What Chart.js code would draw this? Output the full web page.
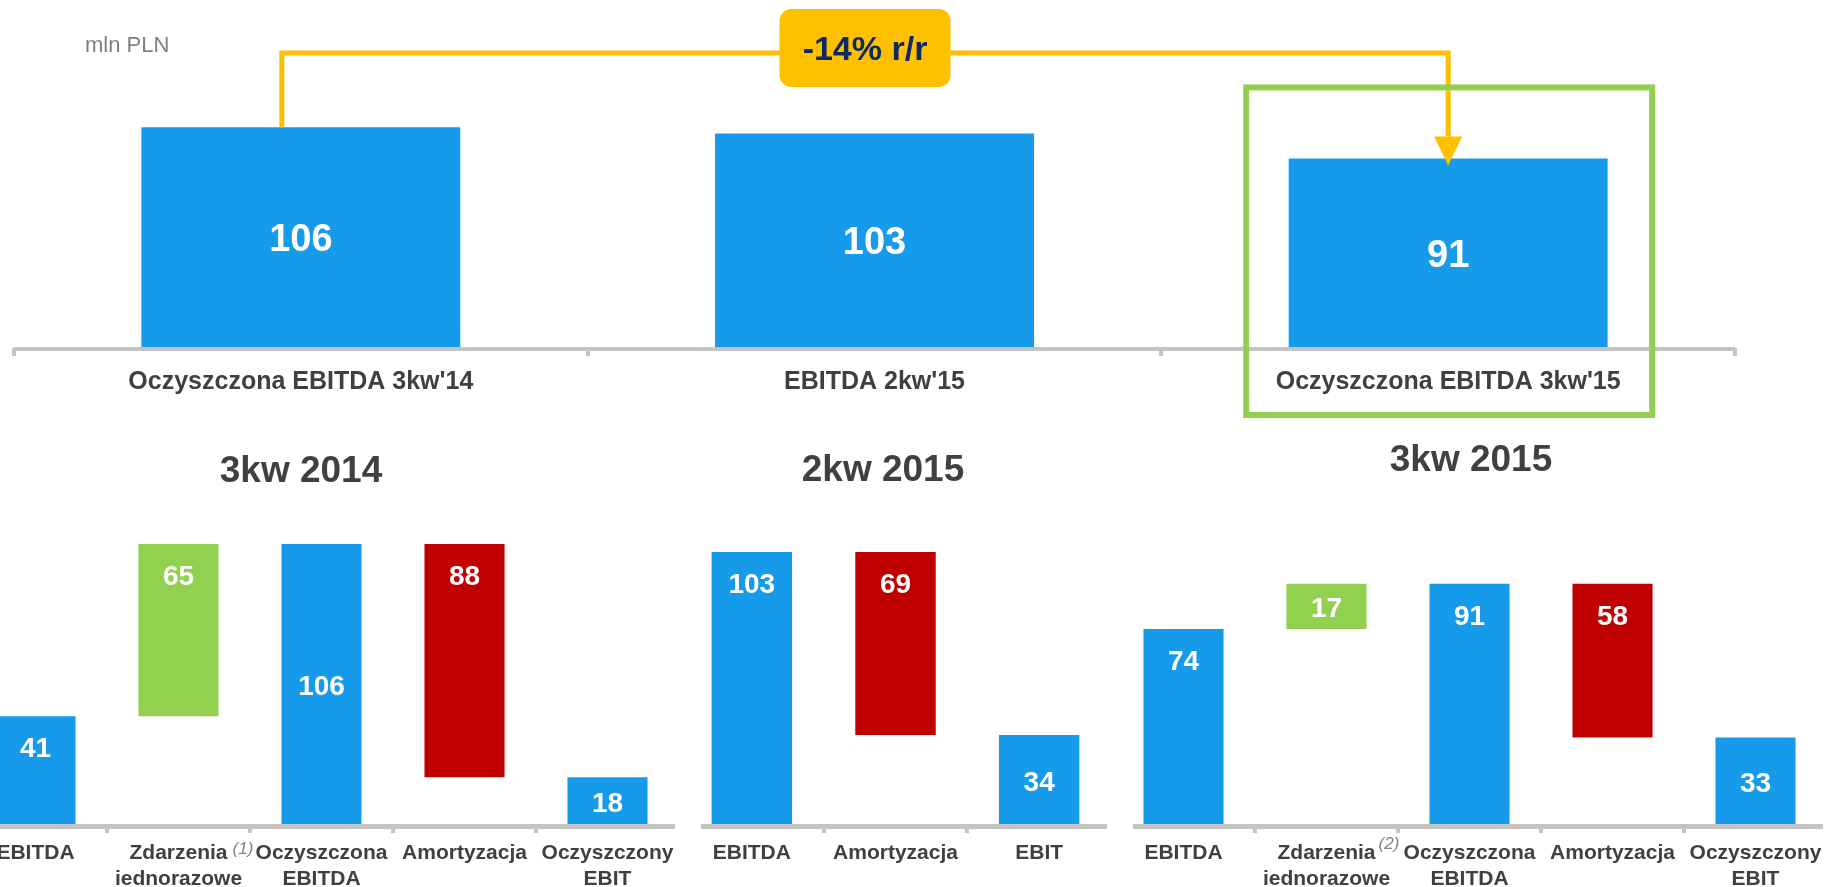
<!DOCTYPE html>
<html>
<head>
<meta charset="utf-8">
<title>EBITDA</title>
<script src="https://cdn.jsdelivr.net/npm/chart.js@4.4.0/dist/chart.umd.min.js"></script>
<style>
  html, body { margin: 0; padding: 0; background: #fff; overflow: hidden; }
  body { width: 1824px; height: 887px; position: relative; }
  .box { position: absolute; }
</style>
</head>
<body>
<div class="box" style="left:0;top:0;width:1824px;height:430px"><canvas id="top"></canvas></div>
<div class="box" style="left:-36px;top:430px;width:715px;height:457px"><canvas id="q3_2014"></canvas></div>
<div class="box" style="left:680px;top:430px;width:431px;height:457px"><canvas id="q2_2015"></canvas></div>
<div class="box" style="left:1112px;top:430px;width:715px;height:457px"><canvas id="q3_2015"></canvas></div>
<script>
// data
var unitText = 'mln PLN';
var changeText = '-14% r/r';
var topLabels = ["Oczyszczona EBITDA 3kw'14", "EBITDA 2kw'15", "Oczyszczona EBITDA 3kw'15"];
var topValues = [106, 103, 91];

var cats2014 = [['EBITDA'], ['Zdarzenia', 'jednorazowe'], ['Oczyszczona', 'EBITDA'], ['Amortyzacja'], ['Oczyszczony', 'EBIT']];
var vals2014 = [41, 65, 106, 88, 18];
var kinds2014 = ['total', 'up', 'total', 'down', 'total'];
var notes2014 = ['', '(1)', '', '', ''];

var cats2Q15 = [['EBITDA'], ['Amortyzacja'], ['EBIT']];
var vals2Q15 = [103, 69, 34];
var kinds2Q15 = ['total', 'down', 'total'];
var notes2Q15 = ['', '', ''];

var cats3Q15 = [['EBITDA'], ['Zdarzenia', 'jednorazowe'], ['Oczyszczona', 'EBITDA'], ['Amortyzacja'], ['Oczyszczony', 'EBIT']];
var vals3Q15 = [74, 17, 91, 58, 33];
var kinds3Q15 = ['total', 'up', 'total', 'down', 'total'];
var notes3Q15 = ['', '(2)', '', '', ''];

var BLUE = '#169BEA', GREEN = '#92D050', RED = '#C00000', GOLD = '#FFC000';
var AXIS = '#C4C4C4', TEXT = '#404040', NAVY = '#0D2A5E';
var FONT = "'Liberation Sans', Arial, sans-serif";

Chart.defaults.font.family = FONT;

// running total -> floating bars
function waterfall(vals, kinds) {
  var run = 0;
  return vals.map(function (v, i) {
    var r;
    if (kinds[i] === 'total') { run = v; return [0, v]; }
    if (kinds[i] === 'up') { r = [run, run + v]; run += v; return r; }
    r = [run - v, run]; run -= v; return r;
  });
}

function kindColor(k) {
  return k === 'up' ? GREEN : (k === 'down' ? RED : BLUE);
}

function fixAxis(h) {
  return function (s) { s.height = h; s.paddingLeft = 0; s.paddingRight = 0; };
}

// baseline + white value labels
var barText = {
  id: 'barText',
  afterDatasetsDraw: function (chart, args, o) {
    var ctx = chart.ctx, a = chart.chartArea;
    ctx.save();
    ctx.strokeStyle = AXIS;
    ctx.lineWidth = o.axisWidth;
    ctx.beginPath();
    ctx.moveTo(a.left + o.inset[0], a.bottom + o.axisShift);
    ctx.lineTo(a.right - o.inset[1], a.bottom + o.axisShift);
    ctx.stroke();

    ctx.fillStyle = '#fff';
    ctx.font = 'bold ' + o.size + 'px ' + FONT;
    ctx.textAlign = 'center';
    ctx.textBaseline = 'middle';
    chart.getDatasetMeta(0).data.forEach(function (bar, i) {
      var t = Math.min(bar.y, bar.base), b = Math.max(bar.y, bar.base);
      var mid = o.centered || (b - t) < 100 || o.mid.indexOf(i) >= 0;
      ctx.fillText(String(o.values[i]), bar.x, (mid ? (t + b) / 2 : t + 30) + 3);
    });
    ctx.restore();
  }
};

// panel title + footnote marks
var panel = {
  id: 'panel',
  afterDraw: function (chart, args, o) {
    if (!o.title) return;
    var ctx = chart.ctx, a = chart.chartArea, xs = chart.scales.x;
    ctx.save();
    ctx.fillStyle = TEXT;
    ctx.font = 'bold 37px ' + FONT;
    ctx.textAlign = 'center';
    ctx.textBaseline = 'middle';
    ctx.fillText(o.title, (a.left + a.right) / 2 + o.dx, o.y);

    o.notes.forEach(function (n, i) {
      if (!n) return;
      var first = chart.data.labels[i][0];
      ctx.font = 'bold 21px ' + FONT;
      var w = ctx.measureText(first).width;
      ctx.font = 'italic 17px ' + FONT;
      ctx.fillStyle = '#808080';
      ctx.textAlign = 'left';
      ctx.textBaseline = 'alphabetic';
      ctx.fillText(n, xs.getPixelForValue(i) + w / 2 + o.noteDx, a.bottom + o.noteDy);
    });
    ctx.restore();
  }
};

// unit, y/y connector and highlight frame on the top chart
var compare = {
  id: 'compare',
  afterDraw: function (chart) {
    var ctx = chart.ctx, xs = chart.scales.x, ys = chart.scales.y, a = chart.chartArea;
    var x0 = xs.getPixelForValue(0) - 19;
    var x2 = xs.getPixelForValue(2);
    var y0 = ys.getPixelForValue(topValues[0]);
    var y2 = ys.getPixelForValue(topValues[2]);
    var lineY = 53;
    ctx.save();

    ctx.fillStyle = '#7F7F7F';
    ctx.font = '22px ' + FONT;
    ctx.textBaseline = 'middle';
    ctx.textAlign = 'left';
    ctx.fillText(unitText, 85, 46);

    ctx.strokeStyle = GOLD;
    ctx.lineWidth = 5;
    ctx.beginPath();
    ctx.moveTo(x0, y0);
    ctx.lineTo(x0, lineY);
    ctx.lineTo(x2, lineY);
    ctx.lineTo(x2, y2 - 22);
    ctx.stroke();
    ctx.fillStyle = GOLD;
    ctx.beginPath();
    ctx.moveTo(x2 - 14, y2 - 22);
    ctx.lineTo(x2 + 14, y2 - 22);
    ctx.lineTo(x2, y2 + 7);
    ctx.closePath();
    ctx.fill();

    var cx = (x0 + x2) / 2, bw = 171, bh = 78;
    ctx.beginPath();
    ctx.roundRect(cx - bw / 2, 9, bw, bh, 12);
    ctx.fill();
    ctx.fillStyle = NAVY;
    ctx.font = 'bold 34px ' + FONT;
    ctx.textAlign = 'center';
    ctx.fillText(changeText, cx, 51);

    ctx.strokeStyle = GREEN;
    ctx.lineWidth = 6;
    ctx.strokeRect(x2 - 202, y2 - 71, 406, a.bottom - y2 + 138);
    ctx.restore();
  }
};

new Chart(document.getElementById('top'), {
  type: 'bar',
  data: {
    labels: topLabels,
    datasets: [{
      data: topValues,
      backgroundColor: BLUE,
      barPercentage: 0.556,
      categoryPercentage: 1
    }]
  },
  options: {
    responsive: true,
    maintainAspectRatio: false,
    animation: false,
    layout: { padding: { left: 14, right: 89, top: 98, bottom: 22 } },
    plugins: {
      legend: { display: false },
      tooltip: { enabled: false },
      barText: { values: topValues, size: 38, centered: true, mid: [], axisWidth: 4, axisShift: 1, inset: [0, 0] }
    },
    scales: {
      x: {
        offset: true,
        border: { display: false },
        grid: { offset: true, drawOnChartArea: false, tickLength: 8, lineWidth: 4, color: AXIS },
        ticks: { color: TEXT, font: { size: 25, weight: 'bold' }, padding: 11, autoSkip: false, maxRotation: 0, minRotation: 0 },
        afterFit: fixAxis(60)
      },
      y: { display: false, min: 0, max: 120 }
    }
  },
  plugins: [barText, compare]
});

function waterfallChart(id, cats, vals, kinds, notes, title, dx, ty, mid, noteDx, noteDy) {
  return new Chart(document.getElementById(id), {
    type: 'bar',
    data: {
      labels: cats,
      datasets: [{
        data: waterfall(vals, kinds),
        backgroundColor: kinds.map(kindColor),
        barPercentage: 0.56,
        categoryPercentage: 1
      }]
    },
    options: {
      responsive: true,
      maintainAspectRatio: false,
      animation: false,
      layout: { padding: { left: 0, right: 0, top: 77, bottom: 2 } },
      plugins: {
        legend: { display: false },
        tooltip: { enabled: false },
        barText: { values: vals, size: 28, centered: false, mid: mid, axisWidth: 5, axisShift: 1.5, inset: [21, 4] },
        panel: { title: title, dx: dx, y: ty, notes: notes, noteDx: noteDx, noteDy: noteDy }
      },
      scales: {
        x: {
          offset: true,
          border: { display: false },
          grid: {
            offset: true, drawOnChartArea: false, tickLength: 8, lineWidth: 4,
            color: function (c) { return (c.type === 'tick' && c.index > 0) ? AXIS : 'rgba(0,0,0,0)'; }
          },
          ticks: { color: TEXT, font: { size: 21, weight: 'bold', lineHeight: 1.25 }, padding: 7, autoSkip: false, maxRotation: 0, minRotation: 0 },
          afterFit: fixAxis(60)
        },
        y: { display: false, min: 0, max: 120 }
      }
    },
    plugins: [barText, panel]
  });
}

waterfallChart('q3_2014', cats2014, vals2014, kinds2014, notes2014, '3kw 2014', -20.5, 42, [2], 5, 29);
waterfallChart('q2_2015', cats2Q15, vals2Q15, kinds2Q15, notes2Q15, '2kw 2015', -12.5, 41, [], 5, 29);
waterfallChart('q3_2015', cats3Q15, vals3Q15, kinds3Q15, notes3Q15, '3kw 2015', 1.5, 30.5, [], 3, 24);
</script>
</body>
</html>
